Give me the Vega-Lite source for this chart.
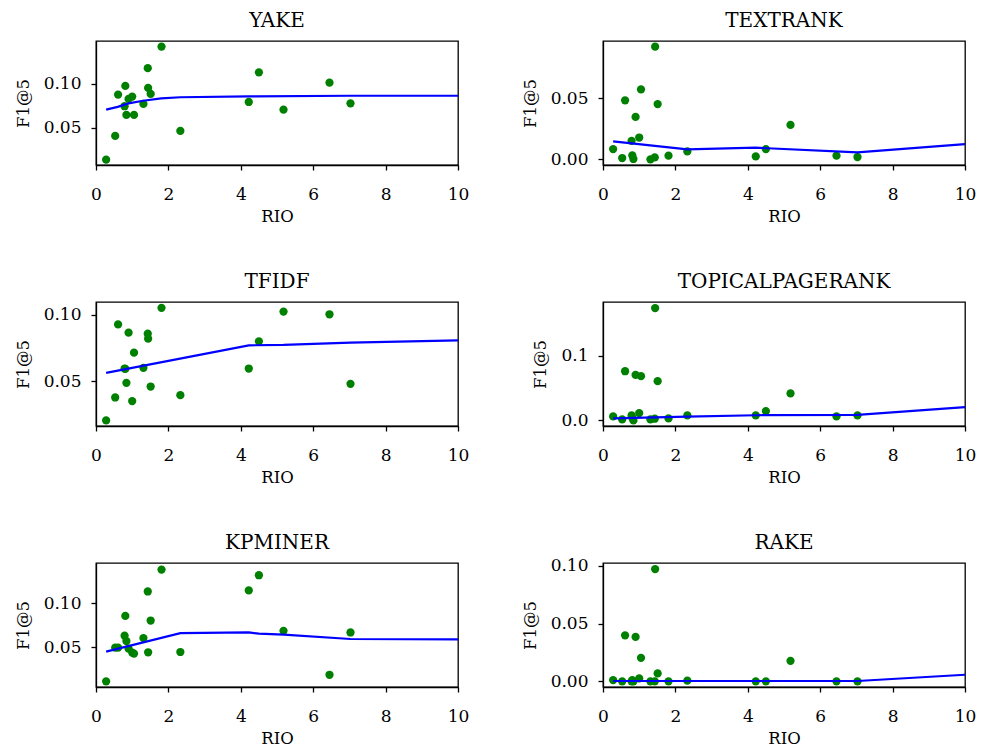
{
  "$schema": "https://vega.github.io/schema/vega-lite/v6.json",
  "padding": {"left": 14, "top": 10, "right": 5, "bottom": 5},
  "background": "white",
  "datasets": {
    "pts": [
      {"m":"YAKE","rio":0.28,"f1":0.0136},{"m":"YAKE","rio":0.53,"f1":0.0405},{"m":"YAKE","rio":0.61,"f1":0.0875},{"m":"YAKE","rio":0.81,"f1":0.0974},{"m":"YAKE","rio":0.79,"f1":0.0743},{"m":"YAKE","rio":0.84,"f1":0.0644},{"m":"YAKE","rio":0.90,"f1":0.0826},{"m":"YAKE","rio":1.00,"f1":0.0852},{"m":"YAKE","rio":1.05,"f1":0.0644},{"m":"YAKE","rio":1.31,"f1":0.0769},{"m":"YAKE","rio":1.43,"f1":0.1175},{"m":"YAKE","rio":1.44,"f1":0.0951},{"m":"YAKE","rio":1.51,"f1":0.0883},{"m":"YAKE","rio":1.81,"f1":0.1421},{"m":"YAKE","rio":2.33,"f1":0.0462},{"m":"YAKE","rio":4.22,"f1":0.0791},{"m":"YAKE","rio":4.50,"f1":0.1128},{"m":"YAKE","rio":5.18,"f1":0.0704},{"m":"YAKE","rio":6.45,"f1":0.1011},{"m":"YAKE","rio":7.03,"f1":0.0776},
      {"m":"TEXTRANK","rio":0.28,"f1":0.0084},{"m":"TEXTRANK","rio":0.53,"f1":0.0011},{"m":"TEXTRANK","rio":0.61,"f1":0.0481},{"m":"TEXTRANK","rio":0.79,"f1":0.0151},{"m":"TEXTRANK","rio":0.81,"f1":0.0032},{"m":"TEXTRANK","rio":0.84,"f1":0.0003},{"m":"TEXTRANK","rio":0.90,"f1":0.0346},{"m":"TEXTRANK","rio":1.00,"f1":0.0178},{"m":"TEXTRANK","rio":1.05,"f1":0.057},{"m":"TEXTRANK","rio":1.31,"f1":0.0},{"m":"TEXTRANK","rio":1.43,"f1":0.0016},{"m":"TEXTRANK","rio":1.44,"f1":0.0919},{"m":"TEXTRANK","rio":1.51,"f1":0.0451},{"m":"TEXTRANK","rio":1.81,"f1":0.003},{"m":"TEXTRANK","rio":2.33,"f1":0.0065},{"m":"TEXTRANK","rio":4.22,"f1":0.0024},{"m":"TEXTRANK","rio":4.50,"f1":0.0084},{"m":"TEXTRANK","rio":5.18,"f1":0.0281},{"m":"TEXTRANK","rio":6.45,"f1":0.003},{"m":"TEXTRANK","rio":7.03,"f1":0.0019},
      {"m":"TFIDF","rio":0.28,"f1":0.0206},{"m":"TFIDF","rio":0.53,"f1":0.0378},{"m":"TFIDF","rio":0.61,"f1":0.0926},{"m":"TFIDF","rio":0.79,"f1":0.0595},{"m":"TFIDF","rio":0.81,"f1":0.0592},{"m":"TFIDF","rio":0.84,"f1":0.0488},{"m":"TFIDF","rio":0.90,"f1":0.0864},{"m":"TFIDF","rio":1.00,"f1":0.0351},{"m":"TFIDF","rio":1.05,"f1":0.0714},{"m":"TFIDF","rio":1.31,"f1":0.060},{"m":"TFIDF","rio":1.43,"f1":0.0856},{"m":"TFIDF","rio":1.44,"f1":0.0819},{"m":"TFIDF","rio":1.51,"f1":0.046},{"m":"TFIDF","rio":1.81,"f1":0.105},{"m":"TFIDF","rio":2.33,"f1":0.0395},{"m":"TFIDF","rio":4.22,"f1":0.0595},{"m":"TFIDF","rio":4.50,"f1":0.0799},{"m":"TFIDF","rio":5.18,"f1":0.1022},{"m":"TFIDF","rio":6.45,"f1":0.1002},{"m":"TFIDF","rio":7.03,"f1":0.048},
      {"m":"TOPICALPAGERANK","rio":0.28,"f1":0.0062},{"m":"TOPICALPAGERANK","rio":0.53,"f1":0.0015},{"m":"TOPICALPAGERANK","rio":0.61,"f1":0.0763},{"m":"TOPICALPAGERANK","rio":0.79,"f1":0.0077},{"m":"TOPICALPAGERANK","rio":0.81,"f1":0.004},{"m":"TOPICALPAGERANK","rio":0.84,"f1":0.0},{"m":"TOPICALPAGERANK","rio":0.90,"f1":0.0706},{"m":"TOPICALPAGERANK","rio":1.00,"f1":0.0113},{"m":"TOPICALPAGERANK","rio":1.05,"f1":0.0686},{"m":"TOPICALPAGERANK","rio":1.31,"f1":0.0015},{"m":"TOPICALPAGERANK","rio":1.43,"f1":0.0026},{"m":"TOPICALPAGERANK","rio":1.44,"f1":0.1742},{"m":"TOPICALPAGERANK","rio":1.51,"f1":0.0608},{"m":"TOPICALPAGERANK","rio":1.81,"f1":0.0031},{"m":"TOPICALPAGERANK","rio":2.33,"f1":0.0077},{"m":"TOPICALPAGERANK","rio":4.22,"f1":0.0077},{"m":"TOPICALPAGERANK","rio":4.50,"f1":0.0144},{"m":"TOPICALPAGERANK","rio":5.18,"f1":0.0418},{"m":"TOPICALPAGERANK","rio":6.45,"f1":0.0062},{"m":"TOPICALPAGERANK","rio":7.03,"f1":0.0077},
      {"m":"KPMINER","rio":0.28,"f1":0.0113},{"m":"KPMINER","rio":0.53,"f1":0.0496},{"m":"KPMINER","rio":0.61,"f1":0.0496},{"m":"KPMINER","rio":0.79,"f1":0.0632},{"m":"KPMINER","rio":0.81,"f1":0.0857},{"m":"KPMINER","rio":0.84,"f1":0.0571},{"m":"KPMINER","rio":0.90,"f1":0.0485},{"m":"KPMINER","rio":1.00,"f1":0.044},{"m":"KPMINER","rio":1.05,"f1":0.0429},{"m":"KPMINER","rio":1.31,"f1":0.0605},{"m":"KPMINER","rio":1.43,"f1":0.1135},{"m":"KPMINER","rio":1.44,"f1":0.0444},{"m":"KPMINER","rio":1.51,"f1":0.0805},{"m":"KPMINER","rio":1.81,"f1":0.1384},{"m":"KPMINER","rio":2.33,"f1":0.0447},{"m":"KPMINER","rio":4.22,"f1":0.1147},{"m":"KPMINER","rio":4.50,"f1":0.132},{"m":"KPMINER","rio":5.18,"f1":0.0688},{"m":"KPMINER","rio":6.45,"f1":0.0188},{"m":"KPMINER","rio":7.03,"f1":0.0669},
      {"m":"RAKE","rio":0.28,"f1":0.0011},{"m":"RAKE","rio":0.53,"f1":0.0},{"m":"RAKE","rio":0.61,"f1":0.0399},{"m":"RAKE","rio":0.79,"f1":0.0},{"m":"RAKE","rio":0.81,"f1":0.001},{"m":"RAKE","rio":0.84,"f1":0.0},{"m":"RAKE","rio":0.90,"f1":0.0385},{"m":"RAKE","rio":1.00,"f1":0.0026},{"m":"RAKE","rio":1.05,"f1":0.0204},{"m":"RAKE","rio":1.31,"f1":0.0},{"m":"RAKE","rio":1.43,"f1":0.0},{"m":"RAKE","rio":1.44,"f1":0.0973},{"m":"RAKE","rio":1.51,"f1":0.0069},{"m":"RAKE","rio":1.81,"f1":0.0},{"m":"RAKE","rio":2.33,"f1":0.0006},{"m":"RAKE","rio":4.22,"f1":0.0},{"m":"RAKE","rio":4.50,"f1":0.0},{"m":"RAKE","rio":5.18,"f1":0.0178},{"m":"RAKE","rio":6.45,"f1":0.0},{"m":"RAKE","rio":7.03,"f1":0.0}
    ],
    "fit": [
      {"m":"YAKE","rio":0.28,"f1":0.0705},{"m":"YAKE","rio":0.6,"f1":0.0735},{"m":"YAKE","rio":0.9,"f1":0.0775},{"m":"YAKE","rio":1.3,"f1":0.0805},{"m":"YAKE","rio":1.8,"f1":0.0833},{"m":"YAKE","rio":2.33,"f1":0.0845},{"m":"YAKE","rio":4.22,"f1":0.0855},{"m":"YAKE","rio":7.03,"f1":0.0862},{"m":"YAKE","rio":10,"f1":0.0862},
      {"m":"TEXTRANK","rio":0.28,"f1":0.0146},{"m":"TEXTRANK","rio":2.33,"f1":0.0081},{"m":"TEXTRANK","rio":4.22,"f1":0.0095},{"m":"TEXTRANK","rio":7.03,"f1":0.0057},{"m":"TEXTRANK","rio":10,"f1":0.0124},
      {"m":"TFIDF","rio":0.28,"f1":0.0562},{"m":"TFIDF","rio":4.22,"f1":0.0769},{"m":"TFIDF","rio":5.18,"f1":0.0772},{"m":"TFIDF","rio":7.03,"f1":0.079},{"m":"TFIDF","rio":10,"f1":0.0806},
      {"m":"TOPICALPAGERANK","rio":0.28,"f1":0.003},{"m":"TOPICALPAGERANK","rio":2.33,"f1":0.006},{"m":"TOPICALPAGERANK","rio":4.22,"f1":0.008},{"m":"TOPICALPAGERANK","rio":7.03,"f1":0.0085},{"m":"TOPICALPAGERANK","rio":10,"f1":0.0205},
      {"m":"KPMINER","rio":0.28,"f1":0.0451},{"m":"KPMINER","rio":2.33,"f1":0.0662},{"m":"KPMINER","rio":4.22,"f1":0.067},{"m":"KPMINER","rio":4.5,"f1":0.0655},{"m":"KPMINER","rio":5.18,"f1":0.0645},{"m":"KPMINER","rio":7.03,"f1":0.0595},{"m":"KPMINER","rio":10,"f1":0.059},
      {"m":"RAKE","rio":0.28,"f1":0.0003},{"m":"RAKE","rio":7.03,"f1":0.0003},{"m":"RAKE","rio":10,"f1":0.0057}
    ]
  },
  "columns": 2,
  "spacing": {"row": 137, "column": 145},
  "bounds": "flush",
  "concat": [
    {"title": "YAKE", "width": 362, "height": 124, "layer": [
      {"data": {"name": "pts"}, "transform": [{"filter": "datum.m === 'YAKE'"}], "mark": {"type": "point", "filled": true, "color": "#008000", "size": 68, "opacity": 1},
       "encoding": {"x": {"field": "rio", "type": "quantitative", "scale": {"domain": [0, 10], "nice": false}, "axis": {"values": [0,2,4,6,8,10], "title": "RIO"}},
                    "y": {"field": "f1", "type": "quantitative", "scale": {"domain": [0.0075, 0.1484], "nice": false, "zero": false}, "axis": {"values": [0.05, 0.10], "format": ".2f", "title": "F1@5"}}}},
      {"data": {"name": "fit"}, "transform": [{"filter": "datum.m === 'YAKE'"}], "mark": {"type": "line", "color": "#0000ff", "strokeWidth": 2.2},
       "encoding": {"x": {"field": "rio", "type": "quantitative", "axis": {"title": "RIO"}}, "y": {"field": "f1", "type": "quantitative", "axis": {"title": "F1@5"}}}}
    ]},
    {"title": "TEXTRANK", "width": 362, "height": 124, "layer": [
      {"data": {"name": "pts"}, "transform": [{"filter": "datum.m === 'TEXTRANK'"}], "mark": {"type": "point", "filled": true, "color": "#008000", "size": 68, "opacity": 1},
       "encoding": {"x": {"field": "rio", "type": "quantitative", "scale": {"domain": [0, 10], "nice": false}, "axis": {"values": [0,2,4,6,8,10], "title": "RIO"}},
                    "y": {"field": "f1", "type": "quantitative", "scale": {"domain": [-0.0046, 0.0965], "nice": false, "zero": false}, "axis": {"values": [0, 0.05], "format": ".2f", "title": "F1@5"}}}},
      {"data": {"name": "fit"}, "transform": [{"filter": "datum.m === 'TEXTRANK'"}], "mark": {"type": "line", "color": "#0000ff", "strokeWidth": 2.2},
       "encoding": {"x": {"field": "rio", "type": "quantitative", "axis": {"title": "RIO"}}, "y": {"field": "f1", "type": "quantitative", "axis": {"title": "F1@5"}}}}
    ]},
    {"title": "TFIDF", "width": 362, "height": 124, "layer": [
      {"data": {"name": "pts"}, "transform": [{"filter": "datum.m === 'TFIDF'"}], "mark": {"type": "point", "filled": true, "color": "#008000", "size": 68, "opacity": 1},
       "encoding": {"x": {"field": "rio", "type": "quantitative", "scale": {"domain": [0, 10], "nice": false}, "axis": {"values": [0,2,4,6,8,10], "title": "RIO"}},
                    "y": {"field": "f1", "type": "quantitative", "scale": {"domain": [0.0164, 0.1094], "nice": false, "zero": false}, "axis": {"values": [0.05, 0.10], "format": ".2f", "title": "F1@5"}}}},
      {"data": {"name": "fit"}, "transform": [{"filter": "datum.m === 'TFIDF'"}], "mark": {"type": "line", "color": "#0000ff", "strokeWidth": 2.2},
       "encoding": {"x": {"field": "rio", "type": "quantitative", "axis": {"title": "RIO"}}, "y": {"field": "f1", "type": "quantitative", "axis": {"title": "F1@5"}}}}
    ]},
    {"title": "TOPICALPAGERANK", "width": 362, "height": 124, "layer": [
      {"data": {"name": "pts"}, "transform": [{"filter": "datum.m === 'TOPICALPAGERANK'"}], "mark": {"type": "point", "filled": true, "color": "#008000", "size": 68, "opacity": 1},
       "encoding": {"x": {"field": "rio", "type": "quantitative", "scale": {"domain": [0, 10], "nice": false}, "axis": {"values": [0,2,4,6,8,10], "title": "RIO"}},
                    "y": {"field": "f1", "type": "quantitative", "scale": {"domain": [-0.0087, 0.1837], "nice": false, "zero": false}, "axis": {"values": [0, 0.1], "format": ".1f", "title": "F1@5"}}}},
      {"data": {"name": "fit"}, "transform": [{"filter": "datum.m === 'TOPICALPAGERANK'"}], "mark": {"type": "line", "color": "#0000ff", "strokeWidth": 2.2},
       "encoding": {"x": {"field": "rio", "type": "quantitative", "axis": {"title": "RIO"}}, "y": {"field": "f1", "type": "quantitative", "axis": {"title": "F1@5"}}}}
    ]},
    {"title": "KPMINER", "width": 362, "height": 124, "layer": [
      {"data": {"name": "pts"}, "transform": [{"filter": "datum.m === 'KPMINER'"}], "mark": {"type": "point", "filled": true, "color": "#008000", "size": 68, "opacity": 1},
       "encoding": {"x": {"field": "rio", "type": "quantitative", "scale": {"domain": [0, 10], "nice": false}, "axis": {"values": [0,2,4,6,8,10], "title": "RIO"}},
                    "y": {"field": "f1", "type": "quantitative", "scale": {"domain": [0.0049, 0.1459], "nice": false, "zero": false}, "axis": {"values": [0.05, 0.10], "format": ".2f", "title": "F1@5"}}}},
      {"data": {"name": "fit"}, "transform": [{"filter": "datum.m === 'KPMINER'"}], "mark": {"type": "line", "color": "#0000ff", "strokeWidth": 2.2},
       "encoding": {"x": {"field": "rio", "type": "quantitative", "axis": {"title": "RIO"}}, "y": {"field": "f1", "type": "quantitative", "axis": {"title": "F1@5"}}}}
    ]},
    {"title": {"text": "RAKE", "offset": 4}, "width": 362, "height": 124, "layer": [
      {"data": {"name": "pts"}, "transform": [{"filter": "datum.m === 'RAKE'"}], "mark": {"type": "point", "filled": true, "color": "#008000", "size": 68, "opacity": 1},
       "encoding": {"x": {"field": "rio", "type": "quantitative", "scale": {"domain": [0, 10], "nice": false}, "axis": {"values": [0,2,4,6,8,10], "title": "RIO"}},
                    "y": {"field": "f1", "type": "quantitative", "scale": {"domain": [-0.0049, 0.1026], "nice": false, "zero": false}, "axis": {"values": [0, 0.05, 0.10], "format": ".2f", "title": "F1@5"}}}},
      {"data": {"name": "fit"}, "transform": [{"filter": "datum.m === 'RAKE'"}], "mark": {"type": "line", "color": "#0000ff", "strokeWidth": 2.2},
       "encoding": {"x": {"field": "rio", "type": "quantitative", "axis": {"title": "RIO"}}, "y": {"field": "f1", "type": "quantitative", "axis": {"title": "F1@5"}}}}
    ]}
  ],
  "config": {
    "font": "DejaVu Serif",
    "view": {"stroke": "black", "strokeWidth": 1.3},
    "axis": {"grid": false, "domainColor": "black", "domainWidth": 1.3, "tickColor": "black", "tickWidth": 1.3, "tickSize": 5,
             "labelColor": "black", "titleColor": "black", "labelFont": "DejaVu Serif", "titleFont": "DejaVu Serif",
             "labelFontSize": 17, "titleFontSize": 16.5, "titleFontWeight": "normal",
             "labelFlush": false, "labelOverlap": false},
    "axisX": {"titlePadding": 6, "labelPadding": 16},
    "axisY": {"titlePadding": 12, "labelPadding": 10, "labelFont": "DejaVu Serif"},
    "title": {"font": "DejaVu Serif", "fontSize": 20, "fontWeight": "normal", "color": "black", "offset": 10}
  }
}
